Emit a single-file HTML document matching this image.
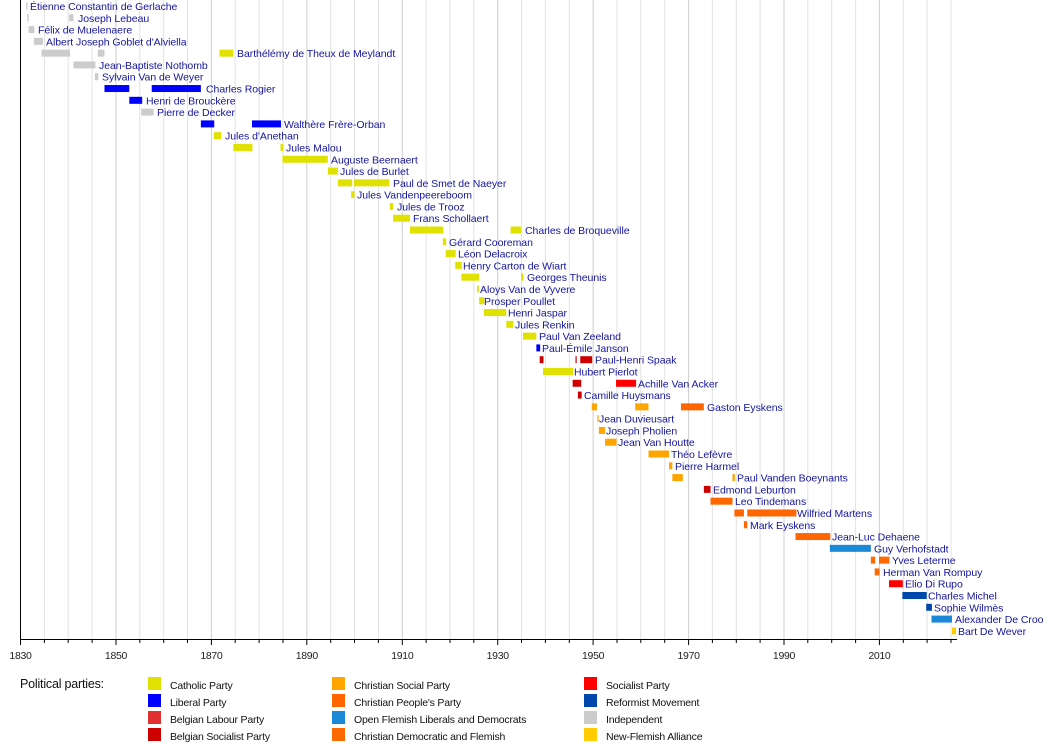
<!DOCTYPE html>
<html><head><meta charset="utf-8"><style>
html,body{margin:0;padding:0;background:#fff;}
svg{display:block;font-family:"Liberation Sans",sans-serif;}
.l{font-size:10.5px;fill:#1515a0;letter-spacing:-0.05px;}
.t{font-size:10.5px;fill:#222;text-anchor:middle;letter-spacing:-0.3px;}
.g{font-size:10.5px;fill:#111;letter-spacing:-0.2px;}
</style></head><body>
<svg width="1050" height="749" viewBox="0 0 1050 749">
<g stroke="#e2e2e2" stroke-width="1">
<line x1="44.4" y1="0" x2="44.4" y2="639"/><line x1="68.2" y1="0" x2="68.2" y2="639"/><line x1="92.1" y1="0" x2="92.1" y2="639"/><line x1="116" y1="0" x2="116" y2="639" stroke="#cfcfcf"/><line x1="139.8" y1="0" x2="139.8" y2="639"/><line x1="163.7" y1="0" x2="163.7" y2="639"/><line x1="187.5" y1="0" x2="187.5" y2="639"/><line x1="211.4" y1="0" x2="211.4" y2="639" stroke="#cfcfcf"/><line x1="235.2" y1="0" x2="235.2" y2="639"/><line x1="259.1" y1="0" x2="259.1" y2="639"/><line x1="283" y1="0" x2="283" y2="639"/><line x1="306.8" y1="0" x2="306.8" y2="639" stroke="#cfcfcf"/><line x1="330.7" y1="0" x2="330.7" y2="639"/><line x1="354.5" y1="0" x2="354.5" y2="639"/><line x1="378.4" y1="0" x2="378.4" y2="639"/><line x1="402.3" y1="0" x2="402.3" y2="639" stroke="#cfcfcf"/><line x1="426.1" y1="0" x2="426.1" y2="639"/><line x1="450" y1="0" x2="450" y2="639"/><line x1="473.8" y1="0" x2="473.8" y2="639"/><line x1="497.7" y1="0" x2="497.7" y2="639" stroke="#cfcfcf"/><line x1="521.5" y1="0" x2="521.5" y2="639"/><line x1="545.4" y1="0" x2="545.4" y2="639"/><line x1="569.3" y1="0" x2="569.3" y2="639"/><line x1="593.1" y1="0" x2="593.1" y2="639" stroke="#cfcfcf"/><line x1="617" y1="0" x2="617" y2="639"/><line x1="640.8" y1="0" x2="640.8" y2="639"/><line x1="664.7" y1="0" x2="664.7" y2="639"/><line x1="688.6" y1="0" x2="688.6" y2="639" stroke="#cfcfcf"/><line x1="712.4" y1="0" x2="712.4" y2="639"/><line x1="736.3" y1="0" x2="736.3" y2="639"/><line x1="760.1" y1="0" x2="760.1" y2="639"/><line x1="784" y1="0" x2="784" y2="639" stroke="#cfcfcf"/><line x1="807.8" y1="0" x2="807.8" y2="639"/><line x1="831.7" y1="0" x2="831.7" y2="639"/><line x1="855.6" y1="0" x2="855.6" y2="639"/><line x1="879.4" y1="0" x2="879.4" y2="639" stroke="#cfcfcf"/><line x1="903.3" y1="0" x2="903.3" y2="639"/><line x1="927.1" y1="0" x2="927.1" y2="639"/><line x1="951" y1="0" x2="951" y2="639"/>
</g>
<line x1="20.5" y1="0" x2="20.5" y2="639" stroke="#000"/>
<line x1="20" y1="639.5" x2="957" y2="639.5" stroke="#000"/>
<g stroke="#000">
<line x1="20.5" y1="639" x2="20.5" y2="645"/><line x1="44.4" y1="639" x2="44.4" y2="643"/><line x1="68.2" y1="639" x2="68.2" y2="643"/><line x1="92.1" y1="639" x2="92.1" y2="643"/><line x1="116" y1="639" x2="116" y2="645"/><line x1="139.8" y1="639" x2="139.8" y2="643"/><line x1="163.7" y1="639" x2="163.7" y2="643"/><line x1="187.5" y1="639" x2="187.5" y2="643"/><line x1="211.4" y1="639" x2="211.4" y2="645"/><line x1="235.2" y1="639" x2="235.2" y2="643"/><line x1="259.1" y1="639" x2="259.1" y2="643"/><line x1="283" y1="639" x2="283" y2="643"/><line x1="306.8" y1="639" x2="306.8" y2="645"/><line x1="330.7" y1="639" x2="330.7" y2="643"/><line x1="354.5" y1="639" x2="354.5" y2="643"/><line x1="378.4" y1="639" x2="378.4" y2="643"/><line x1="402.3" y1="639" x2="402.3" y2="645"/><line x1="426.1" y1="639" x2="426.1" y2="643"/><line x1="450" y1="639" x2="450" y2="643"/><line x1="473.8" y1="639" x2="473.8" y2="643"/><line x1="497.7" y1="639" x2="497.7" y2="645"/><line x1="521.5" y1="639" x2="521.5" y2="643"/><line x1="545.4" y1="639" x2="545.4" y2="643"/><line x1="569.3" y1="639" x2="569.3" y2="643"/><line x1="593.1" y1="639" x2="593.1" y2="645"/><line x1="617" y1="639" x2="617" y2="643"/><line x1="640.8" y1="639" x2="640.8" y2="643"/><line x1="664.7" y1="639" x2="664.7" y2="643"/><line x1="688.6" y1="639" x2="688.6" y2="645"/><line x1="712.4" y1="639" x2="712.4" y2="643"/><line x1="736.3" y1="639" x2="736.3" y2="643"/><line x1="760.1" y1="639" x2="760.1" y2="643"/><line x1="784" y1="639" x2="784" y2="645"/><line x1="807.8" y1="639" x2="807.8" y2="643"/><line x1="831.7" y1="639" x2="831.7" y2="643"/><line x1="855.6" y1="639" x2="855.6" y2="643"/><line x1="879.4" y1="639" x2="879.4" y2="645"/><line x1="903.3" y1="639" x2="903.3" y2="643"/><line x1="927.1" y1="639" x2="927.1" y2="643"/><line x1="951" y1="639" x2="951" y2="643"/>
</g>
<g class="t">
<text x="20.5" y="659">1830</text><text x="116" y="659">1850</text><text x="211.4" y="659">1870</text><text x="306.8" y="659">1890</text><text x="402.3" y="659">1910</text><text x="497.7" y="659">1930</text><text x="593.1" y="659">1950</text><text x="688.6" y="659">1970</text><text x="784" y="659">1990</text><text x="879.4" y="659">2010</text>
</g>

<g transform="translate(20.5,0) scale(4.772,1)">
<g transform="translate(0,0)"><rect x="1.2" y="2.5" width="0.3" height="7" fill="#ccc"/></g>
<g transform="translate(0,11.79)"><rect x="1.4" y="2.5" width="0.3" height="7" fill="#ccc"/><rect x="10.2" y="2.5" width="0.9" height="7" fill="#ccc"/></g>
<g transform="translate(0,23.58)"><rect x="1.7" y="2.5" width="1.2" height="7" fill="#ccc"/></g>
<g transform="translate(0,35.37)"><rect x="2.8" y="2.5" width="1.9" height="7" fill="#ccc"/></g>
<g transform="translate(0,47.16)"><rect x="4.4" y="2.5" width="6" height="7" fill="#ccc"/><rect x="16.2" y="2.5" width="1.4" height="7" fill="#ccc"/><rect x="41.7" y="2.5" width="2.9" height="7" fill="#e1e100"/></g>
<g transform="translate(0,58.95)"><rect x="11.1" y="2.5" width="4.6" height="7" fill="#ccc"/></g>
<g transform="translate(0,70.74)"><rect x="15.6" y="2.5" width="0.7" height="7" fill="#ccc"/></g>
<g transform="translate(0,82.53)"><rect x="17.6" y="2.5" width="5.2" height="7" fill="#0000ff"/><rect x="27.5" y="2.5" width="10.3" height="7" fill="#0000ff"/></g>
<g transform="translate(0,94.32)"><rect x="22.8" y="2.5" width="2.7" height="7" fill="#0000ff"/></g>
<g transform="translate(0,106.11)"><rect x="25.3" y="2.5" width="2.6" height="7" fill="#ccc"/></g>
<g transform="translate(0,117.9)"><rect x="37.8" y="2.5" width="2.8" height="7" fill="#0000ff"/><rect x="48.5" y="2.5" width="6.1" height="7" fill="#0000ff"/></g>
<g transform="translate(0,129.69)"><rect x="40.5" y="2.5" width="1.6" height="7" fill="#e1e100"/></g>
<g transform="translate(0,141.48)"><rect x="44.6" y="2.5" width="4" height="7" fill="#e1e100"/><rect x="54.5" y="2.5" width="0.6" height="7" fill="#e1e100"/></g>
<g transform="translate(0,153.27)"><rect x="54.9" y="2.5" width="9.5" height="7" fill="#e1e100"/></g>
<g transform="translate(0,165.06)"><rect x="64.4" y="2.5" width="2.1" height="7" fill="#e1e100"/></g>
<g transform="translate(0,176.85)"><rect x="66.5" y="2.5" width="3" height="7" fill="#e1e100"/><rect x="69.9" y="2.5" width="7.4" height="7" fill="#e1e100"/></g>
<g transform="translate(0,188.64)"><rect x="69.3" y="2.5" width="0.7" height="7" fill="#e1e100"/></g>
<g transform="translate(0,200.43)"><rect x="77.4" y="2.5" width="0.7" height="7" fill="#e1e100"/></g>
<g transform="translate(0,212.22)"><rect x="78.1" y="2.5" width="3.5" height="7" fill="#e1e100"/></g>
<g transform="translate(0,224.01)"><rect x="81.6" y="2.5" width="7" height="7" fill="#e1e100"/><rect x="102.7" y="2.5" width="2.2" height="7" fill="#e1e100"/></g>
<g transform="translate(0,235.8)"><rect x="88.5" y="2.5" width="0.7" height="7" fill="#e1e100"/></g>
<g transform="translate(0,247.59)"><rect x="89.1" y="2.5" width="2.1" height="7" fill="#e1e100"/></g>
<g transform="translate(0,259.38)"><rect x="91.1" y="2.5" width="1.4" height="7" fill="#e1e100"/></g>
<g transform="translate(0,271.17)"><rect x="92.4" y="2.5" width="3.7" height="7" fill="#e1e100"/><rect x="104.9" y="2.5" width="0.5" height="7" fill="#e1e100"/></g>
<g transform="translate(0,282.96)"><rect x="95.7" y="2.5" width="0.35" height="7" fill="#e1e100"/></g>
<g transform="translate(0,294.75)"><rect x="96.1" y="2.5" width="1.1" height="7" fill="#e1e100"/></g>
<g transform="translate(0,306.54)"><rect x="97.1" y="2.5" width="4.7" height="7" fill="#e1e100"/></g>
<g transform="translate(0,318.33)"><rect x="101.8" y="2.5" width="1.5" height="7" fill="#e1e100"/></g>
<g transform="translate(0,330.12)"><rect x="105.3" y="2.5" width="2.8" height="7" fill="#e1e100"/></g>
<g transform="translate(0,341.91)"><rect x="108.1" y="2.5" width="0.8" height="7" fill="#0000ff"/></g>
<g transform="translate(0,353.7)"><rect x="108.8" y="2.5" width="0.8" height="7" fill="#cc0000"/><rect x="116.3" y="2.5" width="0.25" height="7" fill="#cc0000"/><rect x="117.3" y="2.5" width="2.5" height="7" fill="#cc0000"/></g>
<g transform="translate(0,365.49)"><rect x="109.5" y="2.5" width="6.3" height="7" fill="#e1e100"/></g>
<g transform="translate(0,377.28)"><rect x="115.7" y="2.5" width="1.8" height="7" fill="#cc0000"/><rect x="124.8" y="2.5" width="4.2" height="7" fill="#ff0000"/></g>
<g transform="translate(0,389.07)"><rect x="116.8" y="2.5" width="0.8" height="7" fill="#cc0000"/></g>
<g transform="translate(0,400.86)"><rect x="119.7" y="2.5" width="1.1" height="7" fill="#ffa500"/><rect x="128.8" y="2.5" width="2.8" height="7" fill="#ffa500"/><rect x="138.4" y="2.5" width="4.8" height="7" fill="#ff6600"/></g>
<g transform="translate(0,412.65)"><rect x="120.9" y="2.5" width="0.25" height="7" fill="#ffa500"/></g>
<g transform="translate(0,424.44)"><rect x="121.2" y="2.5" width="1.3" height="7" fill="#ffa500"/></g>
<g transform="translate(0,436.23)"><rect x="122.5" y="2.5" width="2.4" height="7" fill="#ffa500"/></g>
<g transform="translate(0,448.02)"><rect x="131.6" y="2.5" width="4.3" height="7" fill="#ffa500"/></g>
<g transform="translate(0,459.81)"><rect x="135.9" y="2.5" width="0.7" height="7" fill="#ffa500"/></g>
<g transform="translate(0,471.6)"><rect x="136.6" y="2.5" width="2.2" height="7" fill="#ffa500"/><rect x="149.2" y="2.5" width="0.5" height="7" fill="#ffa500"/></g>
<g transform="translate(0,483.39)"><rect x="143.2" y="2.5" width="1.4" height="7" fill="#cc0000"/></g>
<g transform="translate(0,495.18)"><rect x="144.6" y="2.5" width="4.6" height="7" fill="#ff6600"/></g>
<g transform="translate(0,506.97)"><rect x="149.6" y="2.5" width="2" height="7" fill="#ff6600"/><rect x="152.3" y="2.5" width="10.3" height="7" fill="#ff6600"/></g>
<g transform="translate(0,518.76)"><rect x="151.6" y="2.5" width="0.7" height="7" fill="#ff6600"/></g>
<g transform="translate(0,530.55)"><rect x="162.4" y="2.5" width="7.3" height="7" fill="#ff6600"/></g>
<g transform="translate(0,542.34)"><rect x="169.6" y="2.5" width="8.6" height="7" fill="#1a8ad8"/></g>
<g transform="translate(0,554.13)"><rect x="178.2" y="2.5" width="0.9" height="7" fill="#ff6a00"/><rect x="179.9" y="2.5" width="2.2" height="7" fill="#ff6a00"/></g>
<g transform="translate(0,565.92)"><rect x="179.0" y="2.5" width="1" height="7" fill="#ff6a00"/></g>
<g transform="translate(0,577.71)"><rect x="182.0" y="2.5" width="2.9" height="7" fill="#ff0000"/></g>
<g transform="translate(0,589.5)"><rect x="184.8" y="2.5" width="5.1" height="7" fill="#0047ab"/></g>
<g transform="translate(0,601.29)"><rect x="189.8" y="2.5" width="1.2" height="7" fill="#0047ab"/></g>
<g transform="translate(0,613.08)"><rect x="190.9" y="2.5" width="4.3" height="7" fill="#1a8ad8"/></g>
<g transform="translate(0,624.87)"><rect x="195.2" y="2.5" width="0.85" height="7" fill="#ffcc00"/></g>
</g>

<g class="l">
<text x="30" y="10">Étienne Constantin de Gerlache</text>
<text x="78" y="21.8">Joseph Lebeau</text>
<text x="38" y="33.6">Félix de Muelenaere</text>
<text x="46" y="45.4">Albert Joseph Goblet d'Alviella</text>
<text x="237" y="57.2">Barthélémy de Theux de Meylandt</text>
<text x="99" y="69">Jean-Baptiste Nothomb</text>
<text x="102" y="80.7">Sylvain Van de Weyer</text>
<text x="206" y="92.5">Charles Rogier</text>
<text x="146" y="104.3">Henri de Brouckère</text>
<text x="157" y="116.1">Pierre de Decker</text>
<text x="284" y="127.9">Walthère Frère-Orban</text>
<text x="225" y="139.7">Jules d'Anethan</text>
<text x="286" y="151.5">Jules Malou</text>
<text x="331" y="163.3">Auguste Beernaert</text>
<text x="340" y="175.1">Jules de Burlet</text>
<text x="393" y="186.9">Paul de Smet de Naeyer</text>
<text x="357" y="198.6">Jules Vandenpeereboom</text>
<text x="397" y="210.4">Jules de Trooz</text>
<text x="413" y="222.2">Frans Schollaert</text>
<text x="525" y="234">Charles de Broqueville</text>
<text x="449" y="245.8">Gérard Cooreman</text>
<text x="458" y="257.6">Léon Delacroix</text>
<text x="463" y="269.4">Henry Carton de Wiart</text>
<text x="527" y="281.2">Georges Theunis</text>
<text x="480" y="293">Aloys Van de Vyvere</text>
<text x="484" y="304.8">Prosper Poullet</text>
<text x="508" y="316.5">Henri Jaspar</text>
<text x="515" y="328.3">Jules Renkin</text>
<text x="539" y="340.1">Paul Van Zeeland</text>
<text x="542" y="351.9">Paul-Émile Janson</text>
<text x="595" y="363.7">Paul-Henri Spaak</text>
<text x="574" y="375.5">Hubert Pierlot</text>
<text x="638" y="387.3">Achille Van Acker</text>
<text x="584" y="399.1">Camille Huysmans</text>
<text x="707" y="410.9">Gaston Eyskens</text>
<text x="599" y="422.7">Jean Duvieusart</text>
<text x="606" y="434.4">Joseph Pholien</text>
<text x="618" y="446.2">Jean Van Houtte</text>
<text x="671" y="458">Théo Lefèvre</text>
<text x="675" y="469.8">Pierre Harmel</text>
<text x="737" y="481.6">Paul Vanden Boeynants</text>
<text x="713" y="493.4">Edmond Leburton</text>
<text x="735" y="505.2">Leo Tindemans</text>
<text x="797" y="517">Wilfried Martens</text>
<text x="750" y="528.8">Mark Eyskens</text>
<text x="832" y="540.6">Jean-Luc Dehaene</text>
<text x="874" y="552.3">Guy Verhofstadt</text>
<text x="892" y="564.1">Yves Leterme</text>
<text x="883" y="575.9">Herman Van Rompuy</text>
<text x="905" y="587.7">Elio Di Rupo</text>
<text x="928" y="599.5">Charles Michel</text>
<text x="934" y="611.3">Sophie Wilmès</text>
<text x="955" y="623.1">Alexander De Croo</text>
<text x="958" y="634.9">Bart De Wever</text>
</g>

<text x="20" y="688" style="font-size:12.5px;fill:#111;letter-spacing:-0.2px">Political parties:</text>
<g>
<rect x="148" y="677" width="13" height="13" fill="#e1e100"/>
<rect x="148" y="694" width="13" height="13" fill="#0000ff"/>
<rect x="148" y="711" width="13" height="13" fill="#e03030"/>
<rect x="148" y="728" width="13" height="13" fill="#cc0000"/>
<rect x="332" y="677" width="13" height="13" fill="#ffa500"/>
<rect x="332" y="694" width="13" height="13" fill="#ff6600"/>
<rect x="332" y="711" width="13" height="13" fill="#1a8ad8"/>
<rect x="332" y="728" width="13" height="13" fill="#ff6a00"/>
<rect x="584" y="677" width="13" height="13" fill="#ff0000"/>
<rect x="584" y="694" width="13" height="13" fill="#0047ab"/>
<rect x="584" y="711" width="13" height="13" fill="#cccccc"/>
<rect x="584" y="728" width="13" height="13" fill="#ffcc00"/>
</g>
<g class="g">
<text x="170" y="689">Catholic Party</text>
<text x="170" y="706">Liberal Party</text>
<text x="170" y="723">Belgian Labour Party</text>
<text x="170" y="740">Belgian Socialist Party</text>
<text x="354" y="689">Christian Social Party</text>
<text x="354" y="706">Christian People's Party</text>
<text x="354" y="723">Open Flemish Liberals and Democrats</text>
<text x="354" y="740">Christian Democratic and Flemish</text>
<text x="606" y="689">Socialist Party</text>
<text x="606" y="706">Reformist Movement</text>
<text x="606" y="723">Independent</text>
<text x="606" y="740">New-Flemish Alliance</text>
</g>
</svg>
</body></html>
